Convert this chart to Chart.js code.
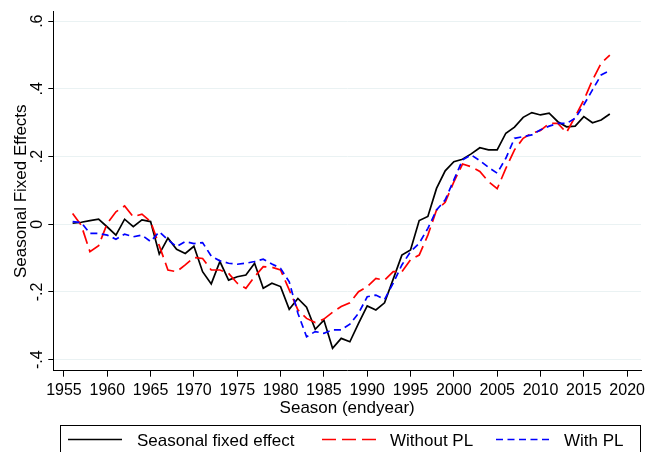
<!DOCTYPE html>
<html>
<head>
<meta charset="utf-8">
<script src="https://cdn.jsdelivr.net/npm/chart.js@4/dist/chart.umd.min.js"></script>
<style>
html,body{margin:0;padding:0;background:#fff;}
canvas{display:block;}
</style>
</head>
<body>
<canvas id="c" width="649" height="452"></canvas>
<script>
// ---- data ----
const years = [];
for (let y = 1956; y <= 2018; y++) years.push(y);

const seasonalFixedEffect = [
  0.003, 0.006, 0.011, 0.015, -0.008, -0.032, 0.015, -0.007, 0.013, 0.008,
  -0.088, -0.041, -0.074, -0.086, -0.065, -0.140, -0.176, -0.110, -0.165, -0.155,
  -0.150, -0.115, -0.189, -0.174, -0.184, -0.251, -0.219, -0.245, -0.310, -0.283,
  -0.366, -0.337, -0.347, -0.293, -0.241, -0.253, -0.232, -0.162, -0.091, -0.076,
  0.011, 0.023, 0.106, 0.158, 0.185, 0.192, 0.208, 0.226, 0.220, 0.220,
  0.269, 0.287, 0.316, 0.330, 0.323, 0.328, 0.303, 0.288, 0.290, 0.318,
  0.300, 0.308, 0.326
];
const withoutPL = [
  0.032, -0.003, -0.081, -0.063, 0.003, 0.037, 0.054, 0.022, 0.030, 0.008,
  -0.063, -0.135, -0.140, -0.120, -0.098, -0.101, -0.135, -0.135, -0.145, -0.174,
  -0.189, -0.155, -0.125, -0.127, -0.135, -0.194, -0.253, -0.278, -0.290, -0.280,
  -0.260, -0.243, -0.232, -0.199, -0.184, -0.160, -0.165, -0.140, -0.140, -0.105,
  -0.091, -0.032, 0.042, 0.065, 0.125, 0.178, 0.170, 0.156, 0.126, 0.105,
  0.165, 0.220, 0.254, 0.269, 0.277, 0.298, 0.298, 0.271, 0.318, 0.367,
  0.426, 0.476, 0.500
];
const withPL = [
  0.008, 0.005, -0.027, -0.027, -0.032, -0.044, -0.029, -0.037, -0.032, -0.051,
  -0.022, -0.046, -0.066, -0.051, -0.057, -0.054, -0.094, -0.108, -0.115, -0.118,
  -0.115, -0.110, -0.103, -0.117, -0.130, -0.170, -0.263, -0.332, -0.317, -0.322,
  -0.312, -0.312, -0.295, -0.263, -0.214, -0.209, -0.222, -0.174, -0.120, -0.081,
  -0.056, -0.012, 0.042, 0.072, 0.131, 0.190, 0.205, 0.188, 0.168, 0.151,
  0.195, 0.254, 0.259, 0.264, 0.279, 0.290, 0.298, 0.298, 0.313, 0.353,
  0.397, 0.441, 0.454
];
const xTicks = [1955, 1960, 1965, 1970, 1975, 1980, 1985, 1990, 1995, 2000, 2005, 2010, 2015, 2020];
const yTicks = [-0.4, -0.2, 0, 0.2, 0.4, 0.6];
const yTickLabels = ["-.4", "-.2", "0", ".2", ".4", ".6"];
const seriesNames = ["Seasonal fixed effect", "Without PL", "With PL"];
const xTitle = "Season (endyear)";
const yTitle = "Seasonal Fixed Effects";

// ---- chart ----
const FONT = "'Liberation Sans', Arial, sans-serif";
const toPts = arr => years.map((yr, i) => ({x: yr, y: arr[i]}));

const textPlugin = {
  id: 'stataText',
  beforeDraw(chart) {
    const ctx = chart.ctx;
    ctx.save();
    ctx.fillStyle = '#fff';
    ctx.fillRect(0, 0, chart.width, chart.height);
    ctx.restore();
  },
  afterDraw(chart) {
    const ctx = chart.ctx;
    const xs = chart.scales.x, ys = chart.scales.y;
    const area = chart.chartArea;
    ctx.save();
    ctx.fillStyle = '#000';
    // x tick labels
    ctx.font = '16px ' + FONT;
    ctx.textAlign = 'center';
    ctx.textBaseline = 'alphabetic';
    xTicks.forEach(v => ctx.fillText(String(v), xs.getPixelForValue(v), 395));
    // x title
    ctx.font = '17px ' + FONT;
    ctx.fillText(xTitle, (area.left + area.right) / 2, 412.5);
    // y tick labels (rotated)
    ctx.font = '16px ' + FONT;
    yTicks.forEach((v, i) => {
      ctx.save();
      ctx.translate(42, ys.getPixelForValue(v));
      ctx.rotate(-Math.PI / 2);
      ctx.fillText(yTickLabels[i], 0, 0);
      ctx.restore();
    });
    // y title
    ctx.save();
    ctx.font = '17px ' + FONT;
    ctx.translate(25.5, (area.top + area.bottom) / 2);
    ctx.rotate(-Math.PI / 2);
    ctx.fillText(yTitle, 0, 0);
    ctx.restore();
    // legend
    ctx.strokeStyle = '#000';
    ctx.lineWidth = 1;
    ctx.strokeRect(60.5, 425.5, 580, 40);
    const items = [
      {x0: 68, x1: 122, tx: 137, color: '#000000', dash: []},
      {x0: 322, x1: 376, tx: 390, color: '#ff0000', dash: [14, 6]},
      {x0: 496, x1: 550, tx: 564, color: '#0000ff', dash: [7, 4.5]}
    ];
    items.forEach((it, i) => {
      ctx.save();
      ctx.strokeStyle = it.color;
      ctx.lineWidth = 1.6;
      ctx.setLineDash(it.dash);
      ctx.beginPath();
      ctx.moveTo(it.x0, 439.5);
      ctx.lineTo(it.x1, 439.5);
      ctx.stroke();
      ctx.restore();
      ctx.font = '17px ' + FONT;
      ctx.textAlign = 'left';
      ctx.fillText(seriesNames[i], it.tx, 446);
    });
    ctx.restore();
  }
};

new Chart(document.getElementById('c'), {
  type: 'line',
  data: {
    datasets: [
      {label: seriesNames[0], data: toPts(seasonalFixedEffect), borderColor: '#000000', borderWidth: 1.7, pointRadius: 0, tension: 0, order: 3, fill: false},
      {label: seriesNames[1], data: toPts(withoutPL), borderColor: '#ff0000', borderWidth: 1.7, borderDash: [14, 6], pointRadius: 0, tension: 0, order: 2, fill: false},
      {label: seriesNames[2], data: toPts(withPL), borderColor: '#0000ff', borderWidth: 1.7, borderDash: [7, 4.5], pointRadius: 0, tension: 0, order: 1, fill: false}
    ]
  },
  options: {
    responsive: false,
    animation: false,
    devicePixelRatio: 1,
    layout: {padding: {top: 11.7, right: 8, left: 0, bottom: 0}},
    plugins: {legend: {display: false}, tooltip: {enabled: false}},
    scales: {
      x: {
        type: 'linear',
        min: 1953.77,
        max: 2021.6,
        afterBuildTicks: s => { s.ticks = xTicks.map(v => ({value: v})); },
        afterFit: s => { s.height = 81.3; },
        ticks: {display: false},
        grid: {drawOnChartArea: false, drawTicks: true, tickLength: 6, tickColor: '#000', color: '#000'},
        border: {display: true, color: '#000', width: 1}
      },
      y: {
        type: 'linear',
        min: -0.4325,
        max: 0.628,
        afterBuildTicks: s => { s.ticks = yTicks.map(v => ({value: v})); },
        afterFit: s => { s.width = 53.3; },
        ticks: {display: false},
        grid: {drawOnChartArea: true, drawTicks: true, tickLength: 5, tickColor: '#000', color: '#eaf2f3', lineWidth: 1},
        border: {display: true, color: '#000', width: 1}
      }
    }
  },
  plugins: [textPlugin]
});
</script>
</body>
</html>
